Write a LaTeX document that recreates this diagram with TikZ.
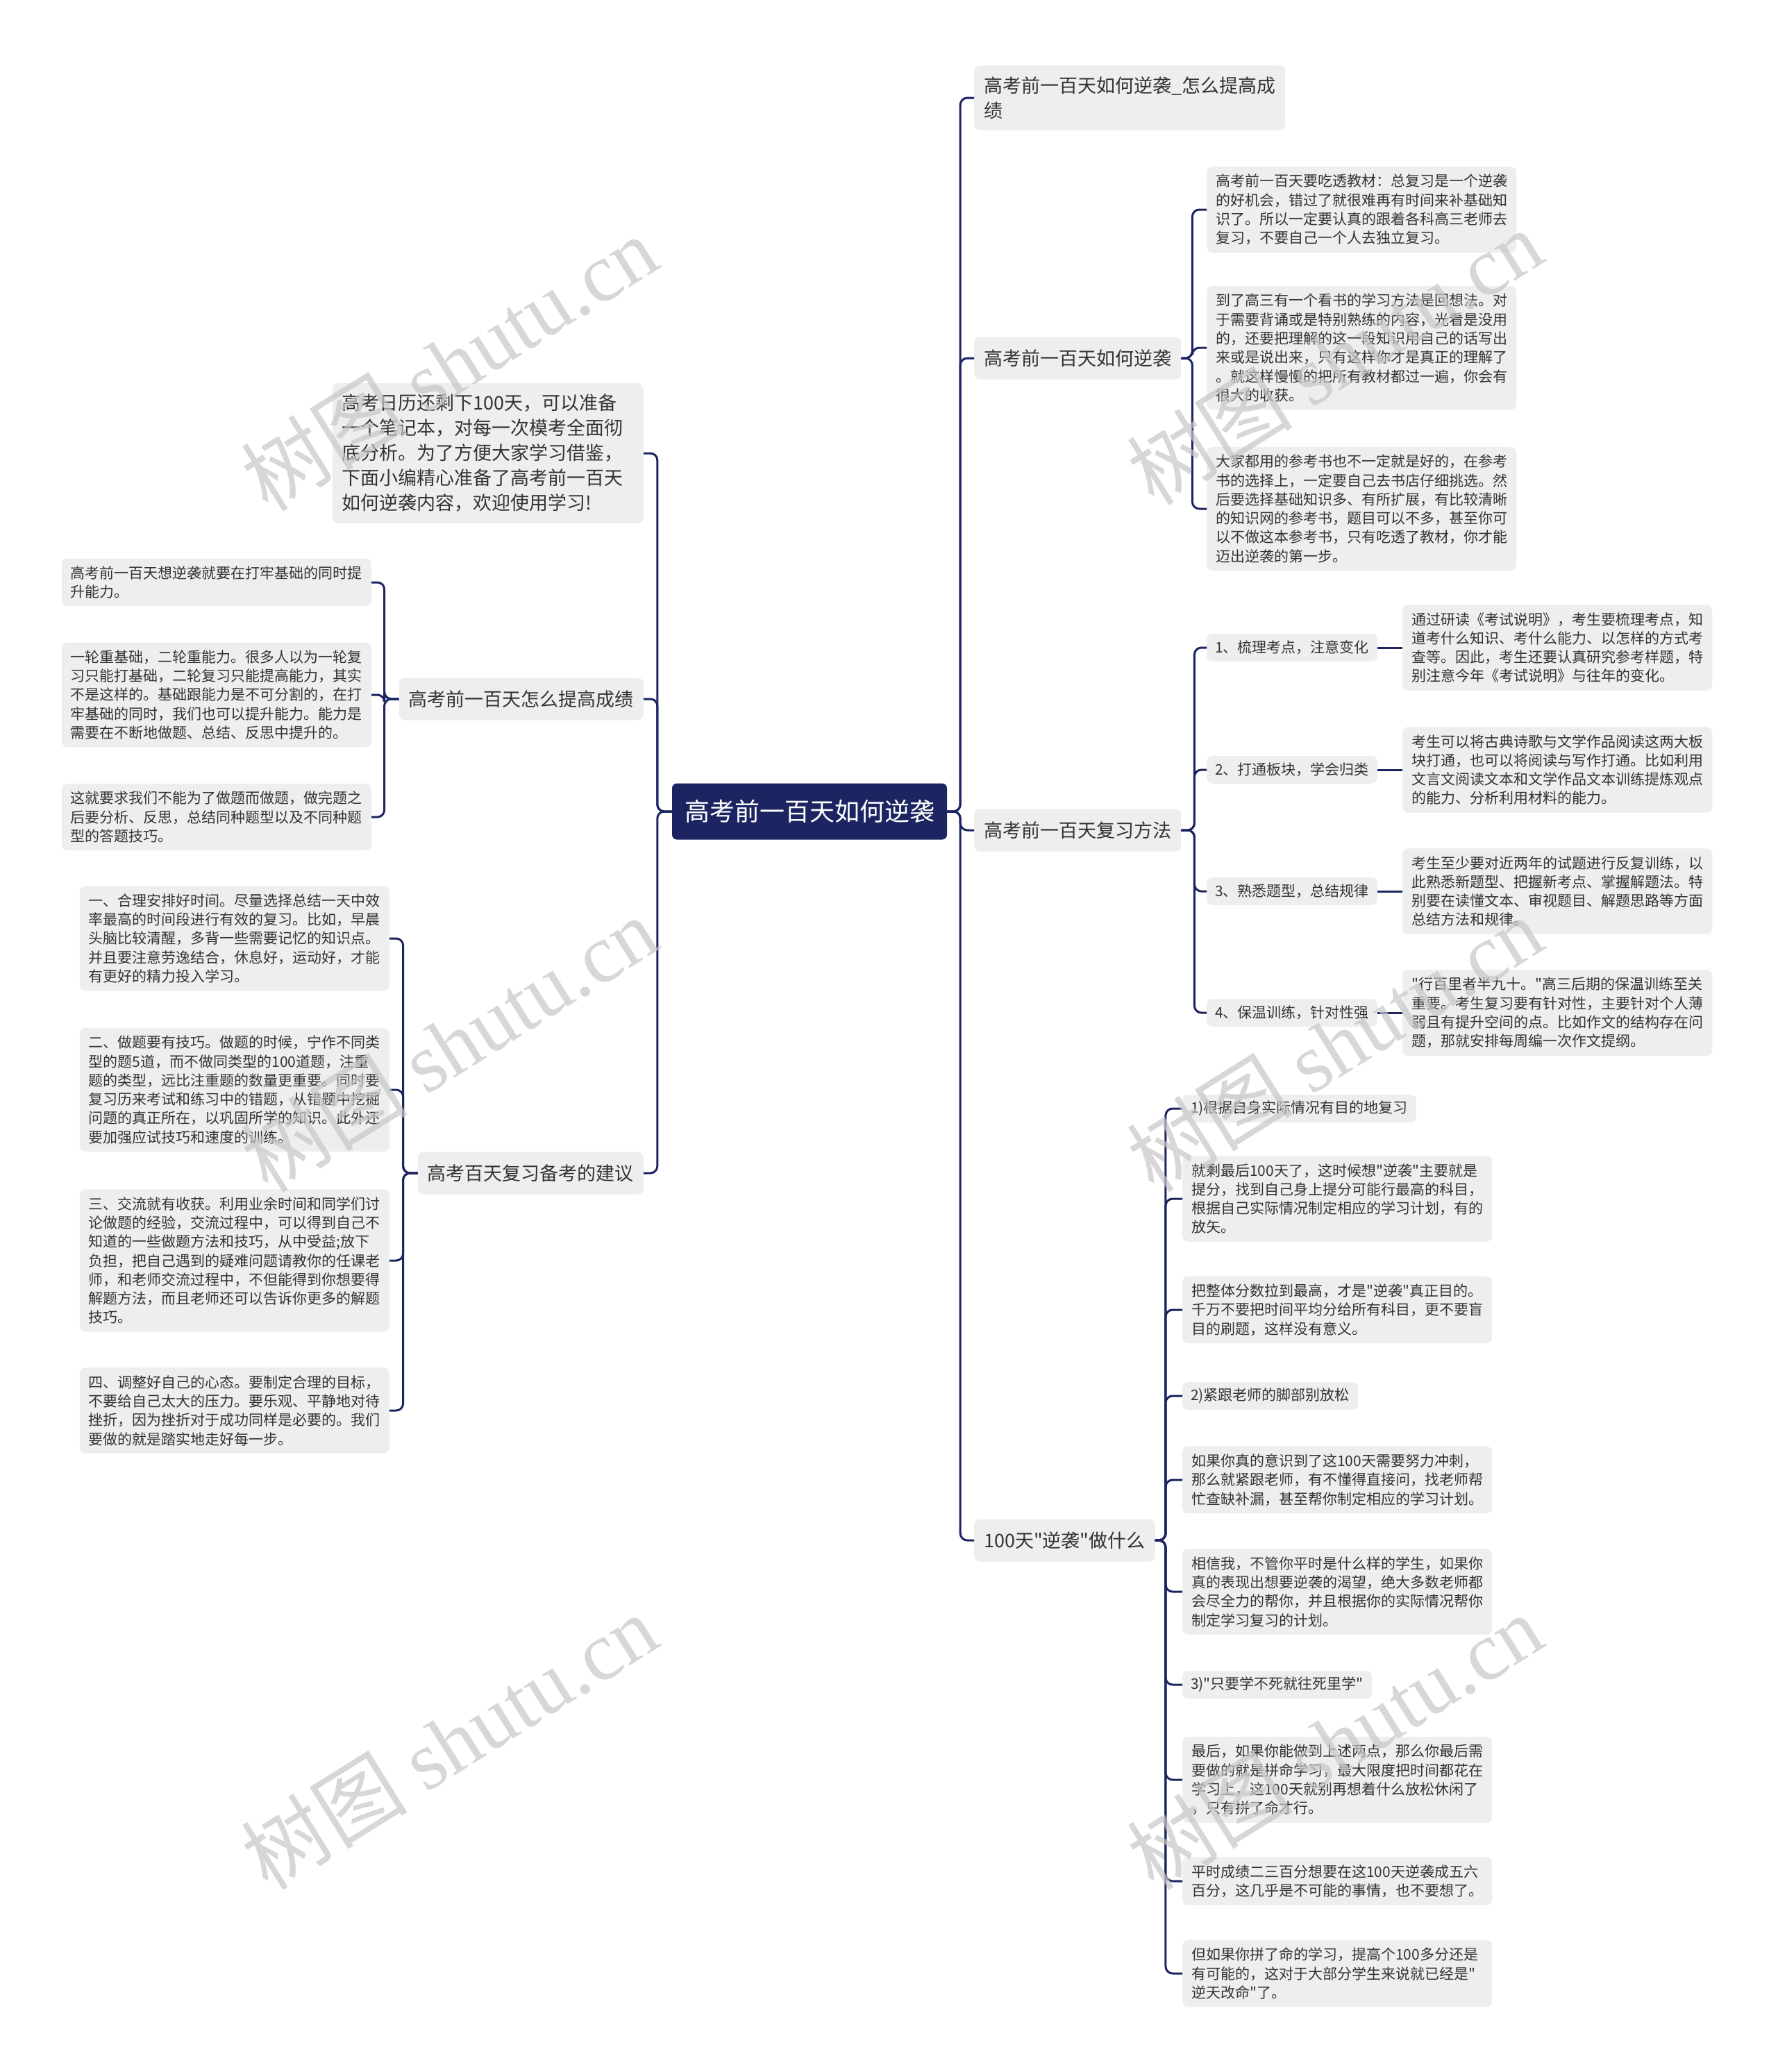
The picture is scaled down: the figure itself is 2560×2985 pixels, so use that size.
\documentclass[tikz,border=0pt]{standalone}
\usepackage{fontspec}
\setmainfont{Noto Sans CJK SC}[Ligatures=TeXOff]
\newfontfamily\wmfont{Liberation Serif}
\usetikzlibrary{positioning}
\definecolor{navy}{HTML}{1C2461}
\definecolor{boxgray}{HTML}{EEEEEE}
\definecolor{inkgray}{HTML}{333333}

\begin{document}
\begin{tikzpicture}[x=1pt, y=-1pt,
	every node/.style={inner sep=0pt, text=inkgray},
	rootbox/.style={fill=navy, text=white, rounded corners=7pt, font=\fontsize{36}{44}\selectfont, inner xsep=18pt, minimum height=81pt},
	topic/.style={fill=boxgray, rounded corners=8pt, font=\fontsize{27}{36}\selectfont, inner xsep=14pt, minimum height=61pt},
	topicwide/.style={topic, align=left, text width=420pt, inner ysep=16pt},
	tag/.style={fill=boxgray, rounded corners=8pt, font=\fontsize{21}{27.3}\selectfont, inner xsep=12pt, minimum height=40pt},
	leaf/.style={fill=boxgray, rounded corners=8pt, font=\fontsize{21}{27.3}\selectfont, align=left, text width=420pt, inner xsep=13pt, inner ysep=11pt},
	link/.style={draw=navy, line width=3pt, rounded corners=10pt},
	wm/.style={text=black!22, opacity=0.7, rotate=32, font=\fontsize{120}{130}\selectfont}]
	\path[use as bounding box, fill=white] (0,0) rectangle (2560,2985);

	\node[rootbox] (root) at (1166,1169) {高考前一百天如何逆袭};

	\node[topicwide, anchor=west] (title) at (1403,141) {高考前一百天如何逆袭\_怎么提高成\\绩};
	\node[topic, anchor=west] (howto) at (1403,516) {高考前一百天如何逆袭};
	\node[topic, anchor=west] (method) at (1403,1196) {高考前一百天复习方法};
	\node[topic, anchor=west] (hundred) at (1403,2219) {100天"逆袭"做什么};
	\node[topicwide, anchor=east] (intro) at (927,653) {高考日历还剩下100天，可以准备\\一个笔记本，对每一次模考全面彻\\底分析。为了方便大家学习借鉴，\\下面小编精心准备了高考前一百天\\如何逆袭内容，欢迎使用学习!};
	\node[topic, anchor=east] (boost) at (927,1007) {高考前一百天怎么提高成绩};
	\node[topic, anchor=east] (advice) at (927,1690) {高考百天复习备考的建议};

	\node[leaf, anchor=west] (howA) at (1738,302) {高考前一百天要吃透教材：总复习是一个逆袭\\的好机会，错过了就很难再有时间来补基础知\\识了。所以一定要认真的跟着各科高三老师去\\复习，不要自己一个人去独立复习。};
	\node[leaf, anchor=west] (howB) at (1738,501) {到了高三有一个看书的学习方法是回想法。对\\于需要背诵或是特别熟练的内容，光看是没用\\的，还要把理解的这一段知识用自己的话写出\\来或是说出来，只有这样你才是真正的理解了\\。就这样慢慢的把所有教材都过一遍，你会有\\很大的收获。};
	\node[leaf, anchor=west] (howC) at (1738,733) {大家都用的参考书也不一定就是好的，在参考\\书的选择上，一定要自己去书店仔细挑选。然\\后要选择基础知识多、有所扩展，有比较清晰\\的知识网的参考书，题目可以不多，甚至你可\\以不做这本参考书，只有吃透了教材，你才能\\迈出逆袭的第一步。};

	\node[tag, anchor=west] (m1) at (1738,933) {1、梳理考点，注意变化};
	\node[tag, anchor=west] (m2) at (1738,1109) {2、打通板块，学会归类};
	\node[tag, anchor=west] (m3) at (1738,1284) {3、熟悉题型，总结规律};
	\node[tag, anchor=west] (m4) at (1738,1459) {4、保温训练，针对性强};
	\node[leaf, right=36pt of m1] (mt1) {通过研读《考试说明》，考生要梳理考点，知\\道考什么知识、考什么能力、以怎样的方式考\\查等。因此，考生还要认真研究参考样题，特\\别注意今年《考试说明》与往年的变化。};
	\node[leaf, right=36pt of m2] (mt2) {考生可以将古典诗歌与文学作品阅读这两大板\\块打通，也可以将阅读与写作打通。比如利用\\文言文阅读文本和文学作品文本训练提炼观点\\的能力、分析利用材料的能力。};
	\node[leaf, right=36pt of m3] (mt3) {考生至少要对近两年的试题进行反复训练，以\\此熟悉新题型、把握新考点、掌握解题法。特\\别要在读懂文本、审视题目、解题思路等方面\\总结方法和规律。};
	\node[leaf, right=36pt of m4] (mt4) {"行百里者半九十。"高三后期的保温训练至关\\重要。考生复习要有针对性，主要针对个人薄\\弱且有提升空间的点。比如作文的结构存在问\\题，那就安排每周编一次作文提纲。};

	\node[tag, anchor=west] (h1) at (1703,1597) {1)根据自身实际情况有目的地复习};
	\node[leaf, anchor=west] (h2) at (1703,1727) {就剩最后100天了，这时候想"逆袭"主要就是\\提分，找到自己身上提分可能行最高的科目，\\根据自己实际情况制定相应的学习计划，有的\\放矢。};
	\node[leaf, anchor=west] (h3) at (1703,1887) {把整体分数拉到最高，才是"逆袭"真正目的。\\千万不要把时间平均分给所有科目，更不要盲\\目的刷题，这样没有意义。};
	\node[tag, anchor=west] (h4) at (1703,2011) {2)紧跟老师的脚部别放松};
	\node[leaf, anchor=west] (h5) at (1703,2132) {如果你真的意识到了这100天需要努力冲刺，\\那么就紧跟老师，有不懂得直接问，找老师帮\\忙查缺补漏，甚至帮你制定相应的学习计划。};
	\node[leaf, anchor=west] (h6) at (1703,2293) {相信我，不管你平时是什么样的学生，如果你\\真的表现出想要逆袭的渴望，绝大多数老师都\\会尽全力的帮你，并且根据你的实际情况帮你\\制定学习复习的计划。};
	\node[tag, anchor=west] (h7) at (1703,2427) {3)"只要学不死就往死里学"};
	\node[leaf, anchor=west] (h8) at (1703,2564) {最后，如果你能做到上述两点，那么你最后需\\要做的就是拼命学习，最大限度把时间都花在\\学习上，这100天就别再想着什么放松休闲了\\，只有拼了命才行。};
	\node[leaf, anchor=west] (h9) at (1703,2710) {平时成绩二三百分想要在这100天逆袭成五六\\百分，这几乎是不可能的事情，也不要想了。};
	\node[leaf, anchor=west] (h10) at (1703,2843) {但如果你拼了命的学习，提高个100多分还是\\有可能的，这对于大部分学生来说就已经是"\\逆天改命"了。};

	\node[leaf, anchor=east] (b1) at (535,839) {高考前一百天想逆袭就要在打牢基础的同时提\\升能力。};
	\node[leaf, anchor=east] (b2) at (535,1001) {一轮重基础，二轮重能力。很多人以为一轮复\\习只能打基础，二轮复习只能提高能力，其实\\不是这样的。基础跟能力是不可分割的，在打\\牢基础的同时，我们也可以提升能力。能力是\\需要在不断地做题、总结、反思中提升的。};
	\node[leaf, anchor=east] (b3) at (535,1177) {这就要求我们不能为了做题而做题，做完题之\\后要分析、反思，总结同种题型以及不同种题\\型的答题技巧。};

	\node[leaf, anchor=east] (a1) at (561,1352) {一、合理安排好时间。尽量选择总结一天中效\\率最高的时间段进行有效的复习。比如，早晨\\头脑比较清醒，多背一些需要记忆的知识点。\\并且要注意劳逸结合，休息好，运动好，才能\\有更好的精力投入学习。};
	\node[leaf, anchor=east] (a2) at (561,1570) {二、做题要有技巧。做题的时候，宁作不同类\\型的题5道，而不做同类型的100道题，注重\\题的类型，远比注重题的数量更重要。同时要\\复习历来考试和练习中的错题，从错题中挖掘\\问题的真正所在，以巩固所学的知识。此外还\\要加强应试技巧和速度的训练。};
	\node[leaf, anchor=east] (a3) at (561,1816) {三、交流就有收获。利用业余时间和同学们讨\\论做题的经验，交流过程中，可以得到自己不\\知道的一些做题方法和技巧，从中受益;放下\\负担，把自己遇到的疑难问题请教你的任课老\\师，和老师交流过程中，不但能得到你想要得\\解题方法，而且老师还可以告诉你更多的解题\\技巧。};
	\node[leaf, anchor=east] (a4) at (561,2032) {四、调整好自己的心态。要制定合理的目标，\\不要给自己太大的压力。要乐观、平静地对待\\挫折，因为挫折对于成功同样是必要的。我们\\要做的就是踏实地走好每一步。};

	\foreach \c in {title,howto,method,hundred}
		\draw[link] (root.east) -- ++(19,0) |- (\c.west);
	\foreach \c in {intro,boost,advice}
		\draw[link] (root.west) -- ++(-21,0) |- (\c.east);
	\foreach \c in {howA,howB,howC}
		\draw[link] (howto.east) -- ++(16,0) |- (\c.west);
	\foreach \c in {m1,m2,m3,m4}
		\draw[link] (method.east) -- ++(19,0) |- (\c.west);
	\foreach \i in {1,...,4}
		\draw[link] (m\i.east) -- (mt\i.west);
	\foreach \i in {1,...,10}
		\draw[link] (hundred.east) -- ++(15,0) |- (h\i.west);
	\foreach \c in {b1,b2,b3}
		\draw[link] (boost.west) -- ++(-21,0) |- (\c.east);
	\foreach \c in {a1,a2,a3,a4}
		\draw[link] (advice.west) -- ++(-21,0) |- (\c.east);

	\node[wm] (wm1) at (647,523) {树图 {\wmfont shutu.cn}};
	\node[wm] (wm2) at (1922,514) {树图 {\wmfont shutu.cn}};
	\node[wm] (wm3) at (647,1504) {树图 {\wmfont shutu.cn}};
	\node[wm] (wm4) at (1922,1504) {树图 {\wmfont shutu.cn}};
	\node[wm] (wm5) at (647,2509) {树图 {\wmfont shutu.cn}};
	\node[wm] (wm6) at (1922,2509) {树图 {\wmfont shutu.cn}};
\end{tikzpicture}
\end{document}
